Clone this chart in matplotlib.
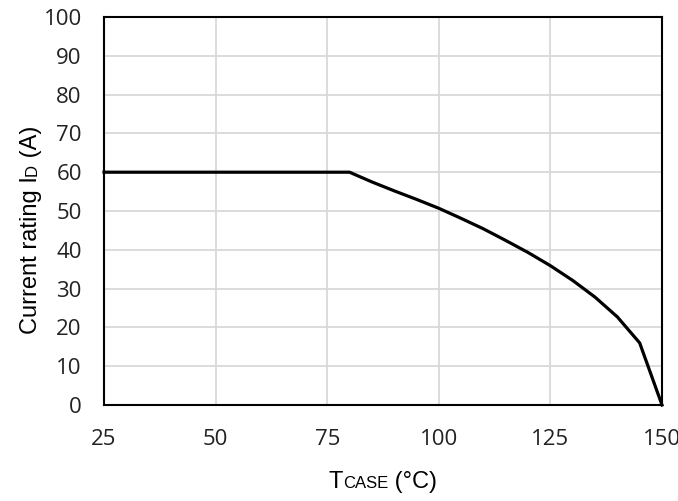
import matplotlib.pyplot as plt
from matplotlib.transforms import IdentityTransform

# case temperature (deg C) and max drain current (A)
t_case = [25, 80, 85, 90, 95, 100, 105, 110, 115, 120, 125, 130, 135, 140, 145, 150]
i_d = [60, 60, 57.5, 55.2, 53.0, 50.7, 48.1, 45.4, 42.4, 39.3, 35.9, 32.1, 27.8, 22.7, 16.0, 0]

x_ticks = [25, 50, 75, 100, 125, 150]
y_ticks = [0, 10, 20, 30, 40, 50, 60, 70, 80, 90, 100]

plt.rcParams['font.family'] = ['Open Sans', 'DejaVu Sans']
label_font = ['Liberation Sans', 'DejaVu Sans']

fig = plt.figure(figsize=(6.78, 5.01), dpi=100)
ax = fig.add_axes([104/678, 1 - 405/501, 558/678, 388/501])

ax.plot(t_case, i_d, color="black", lw=2.3, solid_joinstyle="miter", zorder=3, clip_on=False)

ax.set_xlim(25, 150)
ax.set_ylim(0, 100)
ax.set_xticks(x_ticks)
ax.set_yticks(y_ticks)
ax.grid(True, color="#d9d9d9", lw=1.3)
ax.set_axisbelow(True)
ax.tick_params(length=0, labelsize=16, colors="#222222")
ax.tick_params(axis="y", pad=16)
ax.tick_params(axis="x", pad=17)
for s in ax.spines.values():
    s.set_linewidth(1.5)
    s.set_color("black")


def baseline_label(pieces, cx, cy, vertical=False):
    # lay out text pieces of mixed size on one baseline, centred on (cx, cy) in pixels
    renderer = fig.canvas.get_renderer()
    widths = []
    for s, fs in pieces:
        t = fig.text(0, 0, s, fontsize=fs, family=label_font, transform=IdentityTransform())
        widths.append(t.get_window_extent(renderer).width)
        t.remove()
    pos = -sum(widths) / 2
    for (s, fs), w in zip(pieces, widths):
        if vertical:
            fig.text(cx, cy + pos, s, fontsize=fs, family=label_font, rotation=90,
                     rotation_mode="anchor", ha="left", va="baseline",
                     transform=IdentityTransform())
        else:
            fig.text(cx + pos, cy, s, fontsize=fs, family=label_font,
                     ha="left", va="baseline", transform=IdentityTransform())
        pos += w


baseline_label([("T", 17), ("CASE", 12), (" (°C)", 17)], 383, 501 - 488)
baseline_label([("Current rating I", 17), ("D", 12), (" (A)", 17)], 37, 501 - 230, vertical=True)

fig.savefig("out.png", dpi=100)
